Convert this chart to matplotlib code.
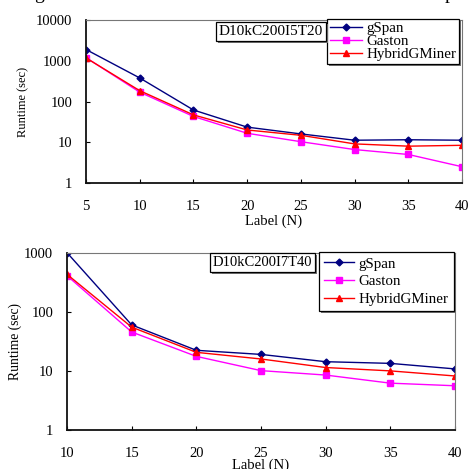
import matplotlib
matplotlib.use("Agg")
import matplotlib.pyplot as plt
from matplotlib.ticker import FixedLocator, NullLocator
import matplotlib.patheffects as pe

plt.rcParams['font.family'] = ['Liberation Serif', 'DejaVu Serif']

# ---- data: top chart (D10kC200I5T20) ----
labels_top = [5, 10, 15, 20, 25, 30, 35, 40]
gspan_top = [1900, 380, 62, 23.5, 16, 11.2, 11.5, 11.2]
gaston_top = [1200, 170, 43, 16.6, 10.3, 6.6, 5.0, 2.5]
hybrid_top = [1180, 185, 47, 20, 14.8, 9.1, 8.0, 8.4]

# ---- data: bottom chart (D10kC200I7T40) ----
labels_bot = [10, 15, 20, 25, 30, 35, 40]
gspan_bot = [1000, 60, 22.3, 19, 14.3, 13.4, 10.8]
gaston_bot = [408, 45.5, 17.6, 10.1, 8.5, 6.2, 5.6]
hybrid_bot = [430, 55, 20.6, 15.9, 11.4, 10.0, 8.2]

series_names = ["gSpan", "Gaston", "HybridGMiner"]
ytick_top = [1, 10, 100, 1000, 10000]
ytick_bot = [1, 10, 100, 1000]

fig = plt.figure(figsize=(4.70, 4.69), dpi=100)

styles = [
    dict(color='#000080', marker='D', markersize=3.5),
    dict(color='#FF00FF', marker='s', markersize=4.5),
    dict(color='#FF0000', marker='^', markersize=5),
]

shadow = [pe.SimplePatchShadow(offset=(1.5, -1.5), shadow_rgbFace='0.45', alpha=1), pe.Normal()]


def draw(ax, xs, ys_list, yticks, title, leg_anchor, txt_xy, cfg):
    for name, ys, st in zip(series_names, ys_list, styles):
        ax.plot(xs, ys, label=name, linewidth=1.0, **st)
    ax.set_yscale('log')
    ax.set_ylim(yticks[0], yticks[-1])
    ax.set_xlim(xs[0], xs[-1])
    ax.yaxis.set_major_locator(FixedLocator(yticks))
    ax.yaxis.set_minor_locator(NullLocator())
    ax.set_yticklabels([str(t) for t in yticks])
    ax.set_xticks(xs)
    ax.tick_params(axis='both', labelsize=10.5, direction='in', length=3, width=0.8)
    ax.tick_params(axis='x', pad=cfg['xpad'])
    ax.tick_params(axis='y', pad=10)
    ax.set_ylabel("Runtime (sec)", fontsize=cfg['ylfs'], labelpad=cfg['ylpad'])
    ax.set_xlabel("Label (N)", fontsize=10.5, labelpad=cfg['xlpad'])
    for s in ['left', 'bottom']:
        ax.spines[s].set_linewidth(1.3)
        ax.spines[s].set_color('#111111')
    for s in ['top', 'right']:
        ax.spines[s].set_linewidth(0.8)
        ax.spines[s].set_color('#777777')
    leg = ax.legend(loc='upper right', bbox_to_anchor=leg_anchor,
                    bbox_transform=fig.transFigure, fontsize=cfg['legfs'],
                    frameon=True, fancybox=False, framealpha=1,
                    edgecolor='black', borderpad=cfg['legpad'],
                    labelspacing=cfg['legspace'],
                    handlelength=cfg['hl'], handletextpad=0.3, borderaxespad=0)
    leg.get_frame().set_linewidth(0.9)
    leg.get_frame().set_path_effects(shadow)
    t = fig.text(txt_xy[0], txt_xy[1], title, fontsize=cfg['tfs'], ha='left', va='top',
                 bbox=dict(boxstyle='square,pad=0.2', facecolor='white',
                           edgecolor='black', linewidth=0.9))
    t.get_bbox_patch().set_path_effects(shadow)


ax1 = fig.add_axes([0.183, 0.610, 0.800, 0.347])
draw(ax1, labels_top, [gspan_top, gaston_top, hybrid_top], ytick_top,
     "D10kC200I5T20", (0.977, 0.960), (0.466, 0.946),
     dict(xpad=12, ylfs=9, ylpad=5, xlpad=1.5, legfs=10.8, legpad=0.2,
          legspace=-0.05, tfs=11, hl=2.1))

ax2 = fig.add_axes([0.1426, 0.0832, 0.8254, 0.378])
draw(ax2, labels_bot, [gspan_bot, gaston_bot, hybrid_bot], ytick_bot,
     "D10kC200I7T40", (0.966, 0.463), (0.452, 0.454),
     dict(xpad=12.5, ylfs=9.8, ylpad=1.5, xlpad=-1.2, legfs=10.8, legpad=0.35,
          legspace=0.28, tfs=10.5, hl=2.0))

# fragments of the caption cut off above the figure
fig.text(0.072, 1.002, "g", fontsize=14, ha='left', va='baseline')
fig.text(0.945, 1.002, "p", fontsize=14, ha='left', va='baseline')

fig.savefig("out.png", dpi=100)
